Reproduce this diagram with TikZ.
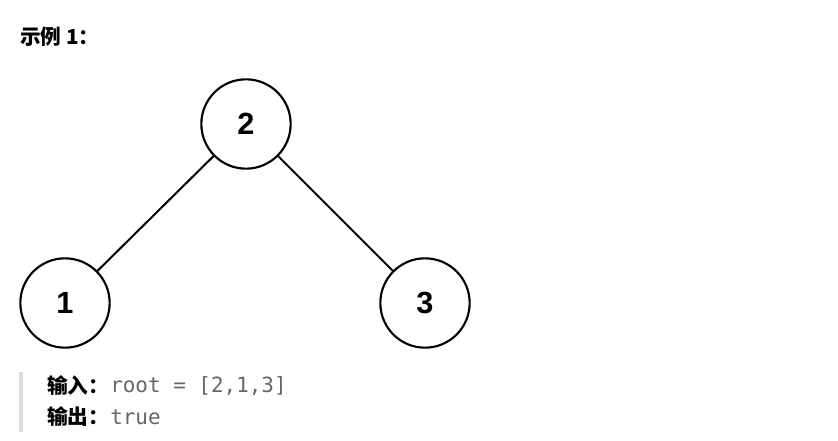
\documentclass[tikz,border=0pt]{standalone}
\usepackage{fontspec}
\newfontfamily\cjk{Noto Sans CJK SC}
\newfontfamily\arialf{Liberation Sans}
\newfontfamily\monof{DejaVu Sans Mono}
\definecolor{codegray}{RGB}{102,102,102}
\definecolor{bargray}{RGB}{221,221,221}
\tikzset{
  treenode/.style={circle, draw=black, line width=1.6pt, minimum size=67pt, inner sep=0pt,
    font=\arialf\bfseries\fontsize{23}{23}\selectfont},
  edge/.style={draw=black, line width=1.5pt},
  label/.style={anchor=west, inner sep=0pt, font=\cjk\bfseries\fontsize{15.5}{15.5}\selectfont},
  code/.style={anchor=west, inner sep=0pt, text=codegray, font=\monof\fontsize{15.7}{15.7}\selectfont}
}
\begin{document}
\begin{tikzpicture}[x=0.75pt,y=-0.75pt]
\useasboundingbox (0,0) rectangle (838,441);
\node[label] (title) at (20,37) {示例 1：};
\node[treenode] (n2) at (246,124) {2};
\node[treenode] (n1) at (65,303) {1};
\node[treenode] (n3) at (425,303) {3};
\draw[edge] (n2) -- (n1);
\draw[edge] (n2) -- (n3);
\coordinate (bt) at (21,372);
\coordinate (bb) at (21,432);
\draw[bargray, line width=2.5pt] (bt) -- (bb);
\node[label] (in) at (47,386) {输入：};
\node[code] (inv) at (110,386) {root = [2,1,3]};
\node[label] (out) at (47,417) {输出：};
\node[code] (outv) at (110,417) {true};
\end{tikzpicture}
\end{document}
